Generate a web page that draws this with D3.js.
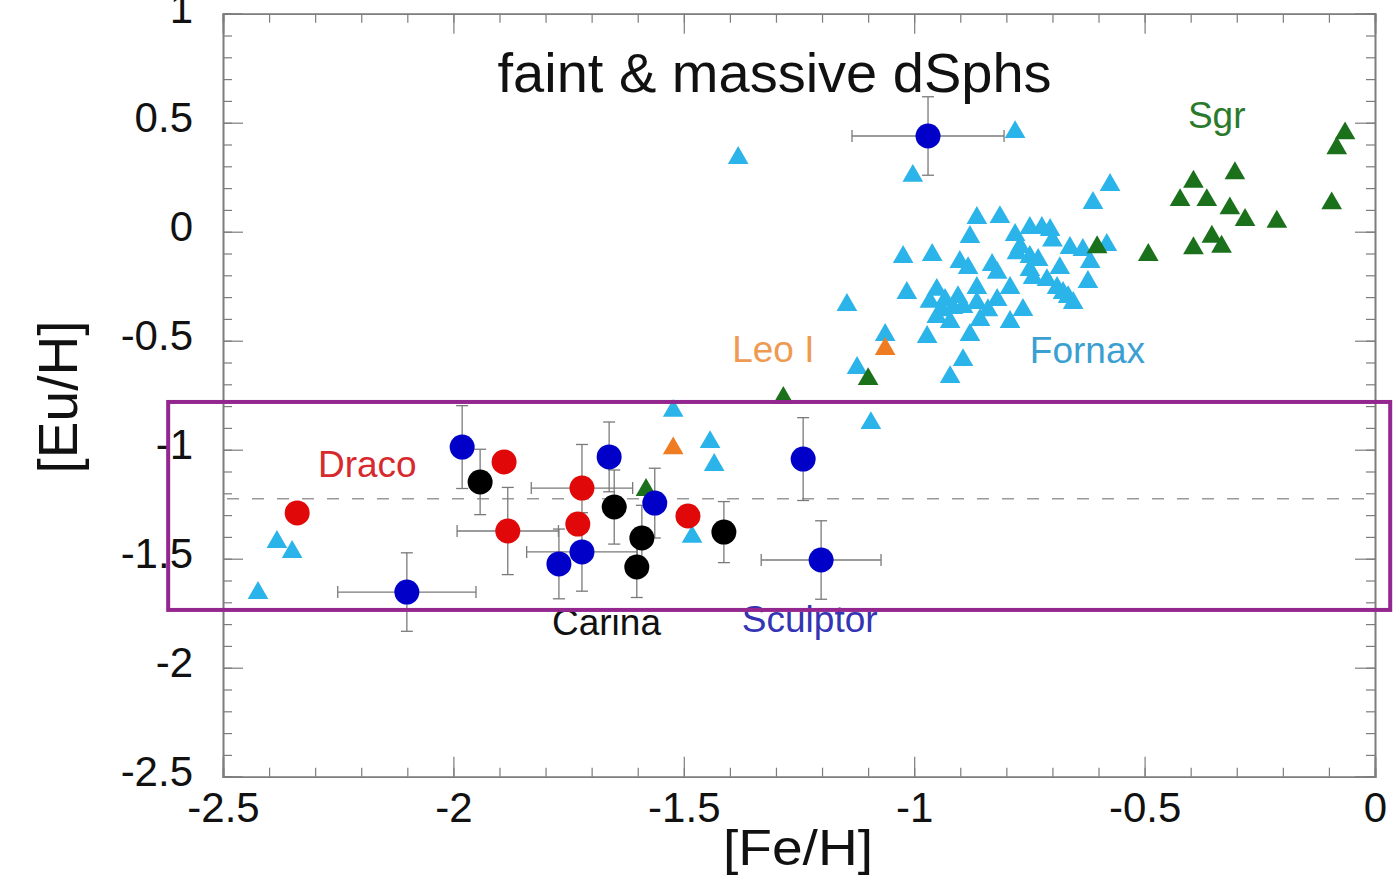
<!DOCTYPE html>
<html><head><meta charset="utf-8">
<script src="https://cdn.jsdelivr.net/npm/d3@7"></script>
<style>
body{margin:0;background:#fff}
svg{display:block}
text{font-family:"Liberation Sans",Arial,Helvetica,sans-serif}
</style>
</head><body>
<svg id="c" width="1393" height="890"></svg>
<script>
// ---------- data ----------
const xTicks = [-2.5, -2, -1.5, -1, -0.5, 0];
const xTickLabels = ["-2.5", "-2", "-1.5", "-1", "-0.5", "0"];
const yTicks = [-2.5, -2, -1.5, -1, -0.5, 0, 0.5, 1];
const yTickLabels = ["-2.5", "-2", "-1.5", "-1", "-0.5", "0", "0.5", "1"];

// [Fe/H], [Eu/H], err[Fe/H], err[Eu/H]
const sculptor = [
  [-0.970, 0.439, 0.165, 0.18],
  [-1.981, -0.988, 0, 0.19],
  [-2.101, -1.653, 0.15, 0.18],
  [-1.662, -1.033, 0, 0.16],
  [-1.563, -1.245, 0, 0.16],
  [-1.721, -1.469, 0.12, 0.18],
  [-1.771, -1.524, 0, 0.16],
  [-1.241, -1.043, 0, 0.19],
  [-1.202, -1.506, 0.13, 0.18]
];
const draco = [
  [-2.339, -1.290, 0, 0],
  [-1.890, -1.056, 0, 0],
  [-1.882, -1.373, 0.11, 0.20],
  [-1.721, -1.176, 0.11, 0.20],
  [-1.730, -1.341, 0, 0],
  [-1.491, -1.304, 0, 0]
];
const carina = [
  [-1.942, -1.148, 0, 0.15],
  [-1.651, -1.263, 0, 0.17],
  [-1.591, -1.405, 0, 0.15],
  [-1.602, -1.538, 0, 0.14],
  [-1.413, -1.378, 0, 0.14]
];
// [Fe/H], [Eu/H]
const fornax = [
  [-1.382, 0.338], [-0.781, 0.457], [-1.003, 0.256], [-0.575, 0.214], [-0.612, 0.132],
  [-0.864, 0.063], [-0.814, 0.067], [-0.879, -0.024], [-0.781, -0.015], [-0.749, 0.017],
  [-0.723, 0.017], [-0.705, 0.008], [-0.770, -0.070], [-0.662, -0.075], [-0.634, -0.084],
  [-0.582, -0.061], [-1.024, -0.116], [-0.961, -0.107], [-0.901, -0.139], [-0.883, -0.167],
  [-0.831, -0.153], [-0.749, -0.116], [-0.731, -0.130], [-0.684, -0.167], [-0.618, -0.139],
  [-1.016, -0.281], [-0.951, -0.267], [-0.864, -0.258], [-0.792, -0.258], [-0.742, -0.212],
  [-0.820, -0.189], [-0.623, -0.231], [-0.690, -0.258], [-0.666, -0.300], [-1.146, -0.336],
  [-0.966, -0.322], [-0.933, -0.313], [-0.916, -0.350], [-0.894, -0.345], [-0.864, -0.327],
  [-0.820, -0.313], [-0.764, -0.359], [-0.655, -0.327], [-0.951, -0.391], [-0.922, -0.414],
  [-0.857, -0.405], [-0.792, -0.414], [-0.972, -0.483], [-0.879, -0.474], [-1.063, -0.474],
  [-0.894, -0.589], [-1.124, -0.625], [-0.922, -0.667], [-1.094, -0.878],
  [-0.777, -0.099], [-0.749, -0.176], [-0.712, -0.222], [-0.677, -0.281],
  [-0.940, -0.360], [-0.905, -0.300], [-0.840, -0.360], [-0.700, -0.040],
  [-1.523, -0.822], [-1.443, -0.965], [-1.434, -1.070], [-1.482, -1.400],
  [-2.383, -1.423], [-2.350, -1.469], [-2.424, -1.657]
];
const sgr = [
  [-0.065, 0.451], [-0.083, 0.383], [-0.094, 0.130], [-0.394, 0.229], [-0.304, 0.268],
  [-0.423, 0.145], [-0.365, 0.145], [-0.315, 0.107], [-0.282, 0.054], [-0.213, 0.046],
  [-0.394, -0.076], [-0.354, -0.023], [-0.333, -0.069], [-0.492, -0.107], [-0.603, -0.071],
  [-1.100, -0.676], [-1.284, -0.763], [-1.582, -1.185]
];
const leoI = [
  [-1.523, -0.994], [-1.063, -0.538]
];
const solarLine = -1.225;

// annotations (data coords)
const title = {text: "faint & massive dSphs", x: -1.303, y: 0.641};
const groupLabels = [
  {text: "Draco",    x: -2.294, y: -1.125, color: "#d62a2e"},
  {text: "Carina",   x: -1.786, y: -1.850, color: "#111111"},
  {text: "Sculptor", x: -1.374, y: -1.836, color: "#3434b4"},
  {text: "Leo I",    x: -1.395, y: -0.598, color: "#ee9a52"},
  {text: "Fornax",   x: -0.749, y: -0.602, color: "#3c9fd2"},
  {text: "Sgr",      x: -0.406, y: 0.476,  color: "#2b7a2b"}
];
const highlightBox = {x0: -2.619, x1: 0.033, y0: -0.781, y1: -1.735};

// ---------- scales ----------
const svg = d3.select("#c");
const x = d3.scaleLinear().domain([-2.5, 0]).range([223, 1375]);
const y = d3.scaleLinear().domain([-2.5, 1]).range([776.7, 13.7]);

const axisColor = "#7d7d7d";
const minorX = d3.range(-2.5, 0.001, 0.1).map(v => +v.toFixed(2));
const minorY = d3.range(-2.5, 1.001, 0.1).map(v => +v.toFixed(2));

function styleAxis(g) {
  g.selectAll(".domain").attr("stroke", axisColor).attr("stroke-width", 1.6);
  g.selectAll(".tick line").attr("stroke", axisColor).attr("stroke-width", 1.2);
}

// minor ticks
svg.append("g").attr("transform", `translate(0,${y(-2.5)})`)
  .call(d3.axisBottom(x).tickValues(minorX).tickSize(-9).tickFormat(""))
  .call(styleAxis);
svg.append("g").attr("transform", `translate(0,${y(1)})`)
  .call(d3.axisTop(x).tickValues(minorX).tickSize(-9).tickFormat(""))
  .call(styleAxis);
svg.append("g").attr("transform", `translate(${x(-2.5)},0)`)
  .call(d3.axisLeft(y).tickValues(minorY).tickSize(-9).tickFormat(""))
  .call(styleAxis);
svg.append("g").attr("transform", `translate(${x(0)},0)`)
  .call(d3.axisRight(y).tickValues(minorY).tickSize(-9).tickFormat(""))
  .call(styleAxis);

// major ticks + labels
const gx = svg.append("g").attr("transform", `translate(0,${y(-2.5)})`)
  .call(d3.axisBottom(x).tickValues(xTicks).tickSize(-20).tickPadding(15)
        .tickFormat((d, i) => xTickLabels[i]))
  .call(styleAxis);
gx.selectAll("text").attr("font-size", 42).attr("fill", "#111")
  .style("font-family", '"Liberation Sans",Arial,sans-serif');
svg.append("g").attr("transform", `translate(0,${y(1)})`)
  .call(d3.axisTop(x).tickValues(xTicks).tickSize(-20).tickFormat(""))
  .call(styleAxis);
const gy = svg.append("g").attr("transform", `translate(${x(-2.5)},0)`)
  .call(d3.axisLeft(y).tickValues(yTicks).tickSize(-20).tickPadding(30)
        .tickFormat((d, i) => yTickLabels[i]))
  .call(styleAxis);
gy.selectAll("text").attr("font-size", 42).attr("fill", "#111").attr("dy", "0.22em")
  .style("font-family", '"Liberation Sans",Arial,sans-serif');
svg.append("g").attr("transform", `translate(${x(0)},0)`)
  .call(d3.axisRight(y).tickValues(yTicks).tickSize(-20).tickFormat(""))
  .call(styleAxis);

// axis titles
svg.append("text").attr("x", 798).attr("y", 865).attr("text-anchor", "middle")
  .attr("font-size", 50).attr("textLength", 150).attr("lengthAdjust", "spacingAndGlyphs")
  .attr("fill", "#111").text("[Fe/H]");
svg.append("text").attr("transform", "translate(77,397) rotate(-90)").attr("text-anchor", "middle")
  .attr("font-size", 56).attr("textLength", 153).attr("lengthAdjust", "spacingAndGlyphs")
  .attr("fill", "#111").text("[Eu/H]");

// dashed reference line
svg.append("line")
  .attr("x1", x(-2.5) + 4).attr("x2", x(0)).attr("y1", y(solarLine)).attr("y2", y(solarLine))
  .attr("stroke", "#9a9a9a").attr("stroke-width", 1.3).attr("stroke-dasharray", "12,13");

// error bars
const errData = [...sculptor, ...draco, ...carina];
const eb = svg.append("g").attr("stroke", "#7a7a7a").attr("stroke-width", 1.3).attr("fill", "none");
errData.forEach(d => {
  const [fx, fy, ex, ey] = d;
  if (ex > 0) {
    eb.append("line").attr("x1", x(fx - ex)).attr("x2", x(fx + ex)).attr("y1", y(fy)).attr("y2", y(fy));
    eb.append("line").attr("x1", x(fx - ex)).attr("x2", x(fx - ex)).attr("y1", y(fy) - 6).attr("y2", y(fy) + 6);
    eb.append("line").attr("x1", x(fx + ex)).attr("x2", x(fx + ex)).attr("y1", y(fy) - 6).attr("y2", y(fy) + 6);
  }
  if (ey > 0) {
    eb.append("line").attr("x1", x(fx)).attr("x2", x(fx)).attr("y1", y(fy - ey)).attr("y2", y(fy + ey));
    eb.append("line").attr("x1", x(fx) - 6).attr("x2", x(fx) + 6).attr("y1", y(fy - ey)).attr("y2", y(fy - ey));
    eb.append("line").attr("x1", x(fx) - 6).attr("x2", x(fx) + 6).attr("y1", y(fy + ey)).attr("y2", y(fy + ey));
  }
});

// triangles
const tri = d3.symbol().type(d3.symbolTriangle).size(185);
function triangles(data, color) {
  svg.append("g").selectAll("path").data(data).join("path")
    .attr("d", tri)
    .attr("transform", d => `translate(${x(d[0])},${y(d[1])})`)
    .attr("fill", color);
}
triangles(fornax, "#2ab4ea");
triangles(leoI, "#f07c22");
triangles(sgr, "#1b701b");

// circles
function circles(data, color) {
  svg.append("g").selectAll("circle").data(data).join("circle")
    .attr("cx", d => x(d[0])).attr("cy", d => y(d[1])).attr("r", 12.5)
    .attr("fill", color);
}
circles(draco, "#e00808");
circles(carina, "#000000");
circles(sculptor, "#0000c8");

// labels
svg.append("text").attr("x", x(title.x)).attr("y", y(title.y)).attr("text-anchor", "middle")
  .attr("font-size", 56).attr("fill", "#111").text(title.text);
svg.append("g").selectAll("text").data(groupLabels).join("text")
  .attr("x", d => x(d.x)).attr("y", d => y(d.y))
  .attr("font-size", 37).attr("fill", d => d.color).text(d => d.text);

// highlight box
svg.append("rect")
  .attr("x", x(highlightBox.x0)).attr("y", y(highlightBox.y0))
  .attr("width", x(highlightBox.x1) - x(highlightBox.x0))
  .attr("height", y(highlightBox.y1) - y(highlightBox.y0))
  .attr("fill", "none").attr("stroke", "#93278f").attr("stroke-width", 4);
</script>
</body></html>
